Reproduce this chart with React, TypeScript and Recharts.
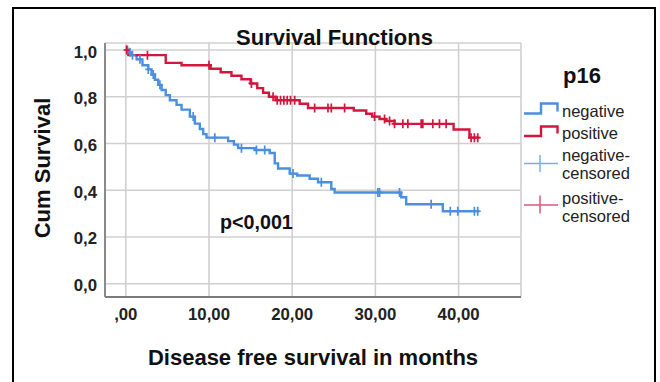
import React from "react";
import { ComposedChart, Line, Scatter, XAxis, YAxis, CartesianGrid } from "recharts";

// Kaplan-Meier step points (time in months, cumulative survival)
const negativeTimes = [0, 0.3, 0.7, 1.3, 2.0, 2.7, 3.1, 3.5, 3.9, 4.3, 4.8, 5.3, 6.1, 6.7, 7.7, 8.3, 8.9, 9.3, 9.7, 12.3, 13.0, 13.5, 15.5, 17.3, 17.9, 18.3, 19.7, 20.6, 22.1, 23.1, 24.7, 25.1, 33.1, 33.7, 38.1, 42.5];
const negativeSurv = [1.0, 0.99, 0.978, 0.96, 0.935, 0.917, 0.895, 0.873, 0.851, 0.829, 0.807, 0.785, 0.765, 0.745, 0.715, 0.685, 0.662, 0.64, 0.625, 0.61, 0.595, 0.58, 0.572, 0.559, 0.515, 0.493, 0.471, 0.463, 0.449, 0.434, 0.405, 0.39, 0.37, 0.34, 0.31, 0.31];
const negativeCensored = [0.2, 0.5, 0.8, 1.7, 2.7, 3.3, 4.1, 8.1, 10.7, 13.9, 15.7, 16.7, 20.1, 23.5, 30.3, 30.5, 32.9, 36.7, 39.0, 39.9, 41.9, 42.3];

const positiveTimes = [0, 0.3, 4.8, 6.7, 10.2, 11.4, 12.7, 13.9, 15.0, 15.8, 16.5, 17.2, 18.0, 20.9, 21.9, 27.4, 28.9, 29.6, 30.5, 31.3, 32.3, 39.4, 41.3, 42.5];
const positiveSurv = [1.0, 0.978, 0.945, 0.935, 0.92, 0.905, 0.89, 0.875, 0.857, 0.837, 0.817, 0.8, 0.785, 0.77, 0.752, 0.741, 0.727, 0.715, 0.705, 0.696, 0.684, 0.66, 0.625, 0.625];
const positiveCensored = [0.1, 2.6, 10.0, 15.1, 17.7, 18.2, 18.6, 19.0, 19.4, 19.8, 20.3, 22.7, 24.3, 24.7, 26.3, 29.9, 31.1, 31.7, 32.3, 33.3, 33.9, 35.5, 35.7, 36.9, 37.7, 38.5, 41.5, 41.9, 42.3];

const xTicks = [0, 10, 20, 30, 40];
const yTicks = [0, 0.2, 0.4, 0.6, 0.8, 1.0];

const BLUE = "#4a8fe0";
const RED = "#d2163e";
const FONT = "'Liberation Sans', Arial, sans-serif";

const toSteps = (ts: number[], ss: number[]) => ts.map((t, i) => ({ t, s: ss[i] }));
const survAt = (ts: number[], ss: number[], t: number) => {
  let v = ss[0];
  for (let i = 0; i < ts.length; i++) if (ts[i] <= t) v = ss[i];
  return v;
};
const toCensor = (cs: number[], ts: number[], ss: number[]) => cs.map((t) => ({ t, s: survAt(ts, ss, t) }));

const negData = toSteps(negativeTimes, negativeSurv);
const posData = toSteps(positiveTimes, positiveSurv);
const negCens = toCensor(negativeCensored, negativeTimes, negativeSurv);
const posCens = toCensor(positiveCensored, positiveTimes, positiveSurv);

const makeCross = (color: string) => (props: any) => {
  const { cx, cy } = props;
  if (cx == null || cy == null) return <g />;
  return (
    <path d={`M${cx - 3},${cy} H${cx + 3} M${cx},${cy - 4.5} V${cy + 4.5}`} stroke={color} strokeWidth={1.7} fill="none" />
  );
};

const XTick = (props: any) => {
  const { x, y, payload } = props;
  const v = payload.value;
  const label = v === 0 ? ",00" : `${v},00`;
  return (
    <text x={x} y={y + 23} textAnchor="middle" fontFamily={FONT} fontWeight="bold" fontSize={16.8} fill="#222">
      {label}
    </text>
  );
};

const YTick = (props: any) => {
  const { x, y, payload } = props;
  const label = Number(payload.value).toFixed(1).replace(".", ",");
  return (
    <text x={x} y={y + 7.5} textAnchor="end" fontFamily={FONT} fontWeight="bold" fontSize={16.8} fill="#222">
      {label}
    </text>
  );
};

export default function App() {
  return (
    <div style={{ position: "fixed", left: 0, top: 0, width: 660, height: 382, overflow: "hidden", background: "#fff" }}>
      <div
        style={{
          position: "absolute",
          left: 12,
          top: 7,
          width: 644,
          height: 420,
          border: "2px solid #000",
          boxSizing: "border-box",
        }}
      />
      <div style={{ position: "absolute", left: 0, top: 0 }}>
        <ComposedChart width={660} height={382} margin={{ top: 43, right: 139, bottom: 55, left: 45 }}>
          <CartesianGrid stroke="#d0d0d0" strokeWidth={1.6} />
          <XAxis
            type="number"
            dataKey="t"
            domain={[-2.5, 47.5]}
            ticks={xTicks}
            allowDataOverflow
            height={30}
            tickLine={false}
            tickSize={0}
            tickMargin={0}
            axisLine={{ stroke: "#7a7a7a", strokeWidth: 2 }}
            tick={<XTick />}
            interval={0}
          />
          <YAxis
            type="number"
            dataKey="s"
            domain={[-0.057, 1.03]}
            ticks={yTicks}
            allowDataOverflow
            width={60}
            tickLine={false}
            tickSize={0}
            tickMargin={8}
            axisLine={{ stroke: "#8a8a8a", strokeWidth: 2 }}
            tick={<YTick />}
            interval={0}
          />
          <Line data={negData} dataKey="s" type="stepAfter" stroke={BLUE} strokeWidth={2.4} dot={false} isAnimationActive={false} />
          <Line data={posData} dataKey="s" type="stepAfter" stroke={RED} strokeWidth={2.4} dot={false} isAnimationActive={false} />
          <Scatter data={negCens} dataKey="s" shape={makeCross(BLUE)} isAnimationActive={false} />
          <Scatter data={posCens} dataKey="s" shape={makeCross(RED)} isAnimationActive={false} />
        </ComposedChart>
      </div>
      <svg width={660} height={382} style={{ position: "absolute", left: 0, top: 0, pointerEvents: "none" }}>
        <text x={334.5} y={44.5} textAnchor="middle" fontFamily={FONT} fontWeight="bold" fontSize={22} fill="#111">
          Survival Functions
        </text>
        <text transform="translate(49.5,168) rotate(-90)" textAnchor="middle" fontFamily={FONT} fontWeight="bold" fontSize={22} fill="#111">
          Cum Survival
        </text>
        <text x={313} y={365} textAnchor="middle" fontFamily={FONT} fontWeight="bold" fontSize={22} fill="#111">
          Disease free survival in months
        </text>
        <text x={220} y={229.3} fontFamily={FONT} fontWeight="bold" fontSize={19.7} fill="#111">
          p&lt;0,001
        </text>
        <text x={563} y={83} fontFamily={FONT} fontWeight="bold" fontSize={22} fill="#111">
          p16
        </text>
        <path d="M524,113.5 H541 V103.5 H557.5 V111.5" stroke={BLUE} strokeWidth={2.4} fill="none" />
        <text x={562} y={117} fontFamily={FONT} fontSize={16.5} fill="#222">negative</text>
        <path d="M524,136 H541 V126.5 H557.5 V133.5" stroke={RED} strokeWidth={2.4} fill="none" />
        <text x={562} y={138.5} fontFamily={FONT} fontSize={16.5} fill="#222">positive</text>
        <path d="M524,163.5 H558 M540,155 V172" stroke="#7aaeea" strokeWidth={1.5} fill="none" />
        <text x={562} y={161} fontFamily={FONT} fontSize={16.5} fill="#222">negative-</text>
        <text x={562} y={179} fontFamily={FONT} fontSize={16.5} fill="#222">censored</text>
        <path d="M524,205 H558 M540,195.5 V213.5" stroke="#e2557a" strokeWidth={1.5} fill="none" />
        <text x={562} y={203.5} fontFamily={FONT} fontSize={16.5} fill="#222">positive-</text>
        <text x={562} y={222} fontFamily={FONT} fontSize={16.5} fill="#222">censored</text>
      </svg>
    </div>
  );
}
